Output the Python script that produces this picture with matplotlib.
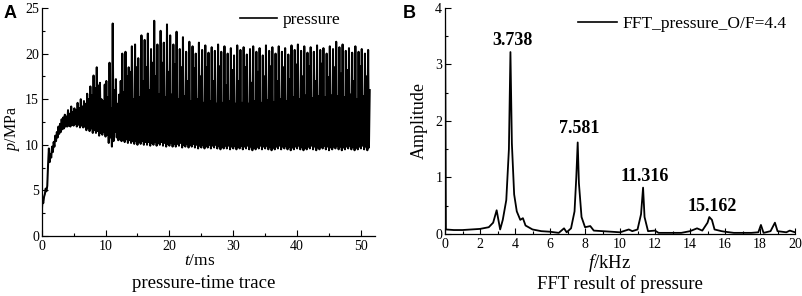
import numpy as np
import matplotlib
matplotlib.use("Agg")
import matplotlib.pyplot as plt
from matplotlib.ticker import MultipleLocator

# ---------------- Panel A data: pressure trace (MPa), one cycle = 0.5 ms, 4 samples per cycle
cycle_ms = 0.5
trough_a = [2.5, 4.6, 7.8, 8.6, 9.8, 10.8, 11.4, 11.8, 12.0, 12.0,
            12.1, 12.0, 11.9, 11.9, 11.6, 11.5, 11.3, 11.3, 11.0, 11.1,
            10.9, 10.2, 9.8, 11.4, 10.5, 10.4, 10.3, 10.2, 10.2, 10.1,
            10.0, 10.1, 10.0, 10.0, 9.9, 10.0, 9.9, 10.0, 9.9, 9.8,
            9.9, 9.8, 9.8, 9.9, 9.7, 9.8, 9.7, 9.8, 9.7, 9.6,
            9.7, 9.6, 9.7, 9.6, 9.7, 9.6, 9.5, 9.6, 9.6, 9.5,
            9.6, 9.5, 9.6, 9.5, 9.6, 9.5, 9.4, 9.5, 9.6, 9.5,
            9.6, 9.5, 9.4, 9.5, 9.6, 9.5, 9.6, 9.5, 9.4, 9.5,
            9.6, 9.5, 9.4, 9.5, 9.6, 9.5, 9.4, 9.5, 9.6, 9.5,
            9.4, 9.5, 9.6, 9.5, 9.4, 9.5, 9.6, 9.5, 9.4, 9.5,
            9.6, 9.5, 9.4]
peak_hi = [3.9, 5.2, 9.6, 9.8, 11.0, 12.0, 12.8, 13.3, 13.8, 14.2,
           14.0, 14.6, 15.0, 14.8, 15.6, 16.4, 17.6, 18.5, 16.8, 14.8,
           17.0, 19.0, 23.3, 17.2, 15.5, 20.0, 20.2, 18.5, 20.8, 21.0,
           19.5, 22.0, 21.5, 22.2, 20.5, 23.6, 21.0, 22.5, 21.2, 23.2,
           22.0, 21.0, 22.4, 20.5, 21.8, 20.2, 21.3, 20.8, 20.0, 21.2,
           20.4, 20.9, 20.1, 20.7, 20.3, 21.0, 20.2, 20.8, 20.0, 20.6,
           19.8, 20.9, 20.4, 20.7, 19.9, 20.5, 20.8, 20.2, 20.6, 19.8,
           20.9, 20.3, 20.7, 20.0, 20.8, 20.2, 20.6, 19.9, 20.9, 20.4,
           21.0, 20.3, 20.8, 20.1, 20.7, 20.2, 20.9, 20.4, 20.6, 20.0,
           20.8, 20.5, 21.3, 20.7, 21.0, 20.3, 20.6, 20.1, 20.8, 20.2,
           20.5, 20.0, 20.4]
trough_b = [3.6, 4.9, 8.1, 9.2, 10.4, 11.2, 11.7, 12.0, 12.1, 12.2,
            12.3, 12.2, 12.1, 12.0, 11.9, 11.8, 11.6, 11.5, 11.3, 11.4,
            11.1, 10.8, 10.4, 10.8, 10.6, 10.5, 10.6, 10.5, 10.4, 10.4,
            10.3, 10.4, 10.3, 10.3, 10.2, 10.3, 10.2, 10.3, 10.2, 10.1,
            10.2, 10.1, 10.1, 10.2, 10.0, 10.1, 10.0, 10.1, 10.0, 9.9,
            10.0, 9.9, 10.0, 9.9, 10.0, 9.9, 9.8, 9.9, 9.9, 9.8,
            9.9, 9.8, 9.9, 9.8, 9.9, 9.8, 9.7, 9.8, 9.9, 9.8,
            9.9, 9.8, 9.7, 9.8, 9.9, 9.8, 9.9, 9.8, 9.7, 9.8,
            9.9, 9.8, 9.7, 9.8, 9.9, 9.8, 9.7, 9.8, 9.9, 9.8,
            9.7, 9.8, 9.9, 9.8, 9.7, 9.8, 9.9, 9.8, 9.7, 9.8,
            9.9, 9.8, 9.7]
peak_lo = [4.3, 5.5, 9.0, 10.3, 11.4, 12.3, 13.0, 13.1, 13.4, 13.6,
           13.8, 14.0, 14.2, 14.5, 15.0, 15.4, 16.2, 16.5, 15.0, 16.6,
           15.2, 14.0, 16.0, 14.5, 17.0, 15.8, 17.5, 18.0, 15.0, 18.5,
           15.2, 17.0, 18.5, 16.0, 19.0, 17.5, 15.5, 19.0, 15.2, 18.0,
           15.5, 18.8, 15.0, 18.5, 15.3, 17.0, 14.8, 18.4, 15.0, 17.5,
           14.6, 18.5, 14.8, 17.0, 14.5, 18.6, 14.6, 16.5, 14.8, 18.2,
           14.5, 17.0, 14.6, 18.5, 14.5, 16.8, 14.8, 18.0, 14.6, 17.5,
           14.9, 18.6, 14.7, 17.0, 15.0, 18.5, 14.8, 17.2, 15.2, 18.8,
           15.0, 17.5, 15.4, 18.6, 15.1, 17.0, 15.3, 18.9, 15.2, 17.4,
           15.4, 18.5, 15.3, 17.8, 15.2, 18.2, 15.5, 17.0, 15.0, 18.6,
           15.3, 17.5, 16.0]

# ---------------- Panel B data: FFT amplitude
freq_khz = [0.0, 0.0, 0.05, 0.5, 1.0, 1.5, 2.0, 2.5, 2.75, 2.95, 3.05, 3.15, 3.3, 3.5,
            3.65, 3.738, 3.82, 3.95, 4.1, 4.3, 4.45, 4.6, 5.0, 5.5, 6.0, 6.5, 6.8,
            6.95, 7.2, 7.4, 7.5, 7.581, 7.65, 7.8, 8.0, 8.3, 8.5, 9.0, 9.5, 10.0,
            10.5, 10.7, 11.0, 11.2, 11.316, 11.4, 11.6, 12.0, 12.2, 13.0, 13.5,
            14.0, 14.4, 14.7, 15.0, 15.1, 15.25, 15.4, 15.8, 16.0, 16.5, 17.0,
            17.5, 17.9, 18.05, 18.2, 18.6, 18.85, 19.0, 19.5, 19.7, 20.0]
amplitude = [0.0, 4.3, 0.08, 0.07, 0.07, 0.08, 0.09, 0.12, 0.2, 0.42, 0.25, 0.08, 0.25, 0.6,
             1.5, 3.22, 1.6, 0.7, 0.4, 0.25, 0.28, 0.15, 0.08, 0.05, 0.04, 0.02, 0.1,
             0.03, 0.1, 0.4, 1.0, 1.62, 0.9, 0.3, 0.12, 0.14, 0.06, 0.05, 0.04, 0.03,
             0.08, 0.05, 0.08, 0.35, 0.82, 0.3, 0.05, 0.06, 0.02, 0.02, 0.02,
             0.05, 0.1, 0.06, 0.2, 0.3, 0.25, 0.08, 0.05, 0.04, 0.02, 0.02,
             0.02, 0.03, 0.16, 0.02, 0.05, 0.2, 0.05, 0.03, 0.06, 0.03]
peak_freqs = [3.738, 7.581, 11.316, 15.162]
peak_amps = [3.22, 1.62, 0.82, 0.30]
peak_labels = ["3.738", "7.581", "11.316", "15.162"]

# ---------------- build trace
pressure = np.column_stack([trough_a, peak_hi, trough_b, peak_lo]).ravel()
t_ms = np.arange(pressure.size) * (cycle_ms / 4)

serif = "Liberation Serif"
plt.rcParams["font.family"] = serif
plt.rcParams["mathtext.fontset"] = "custom"
plt.rcParams["mathtext.it"] = "Liberation Serif:italic"
plt.rcParams["mathtext.rm"] = "Liberation Serif"

fig = plt.figure(figsize=(8.03, 2.96), dpi=100)
axA = fig.add_axes([0.0519, 0.2027, 0.4151, 0.7703])
axB = fig.add_axes([0.5542, 0.2095, 0.4359, 0.7635])

def style(ax):
    for s in ("top", "right"):
        ax.spines[s].set_visible(False)
    for s in ("left", "bottom"):
        ax.spines[s].set_linewidth(0.9)
    ax.tick_params(which="both", direction="in", labelsize=10, width=0.8)
    ax.tick_params(which="major", length=4)
    ax.tick_params(which="minor", length=2.5)
    ax.tick_params(axis="x", pad=3)
    ax.tick_params(axis="y", pad=2)

# Panel A
axA.plot(t_ms, pressure, color="black", lw=1.45, label="pressure")
axA.set_xlim(0, 52.2)
axA.set_ylim(0, 25)
axA.xaxis.set_major_locator(MultipleLocator(10))
axA.xaxis.set_minor_locator(MultipleLocator(5))
axA.yaxis.set_major_locator(MultipleLocator(5))
axA.yaxis.set_minor_locator(MultipleLocator(2.5))
style(axA)
axA.set_xlabel(r"$\mathit{t}$/ms", fontsize=12.5)
axA.xaxis.set_label_coords(0.475, -0.075)
axA.set_ylabel(r"$\mathit{p}$/MPa", fontsize=11.5)
axA.yaxis.set_label_coords(-0.06, 0.47)
legA = axA.legend(loc="center left", frameon=False, fontsize=12.5, handlelength=2.13,
                  handletextpad=0.35, borderpad=0, borderaxespad=0,
                  bbox_to_anchor=(0.595, 0.947))
for ln in legA.get_lines():
    ln.set_linewidth(1.2)

# Panel B
axB.plot(freq_khz, amplitude, color="black", lw=1.3, label="FFT_pressure_O/F=4.4")
axB.set_xlim(0, 20)
axB.set_ylim(0, 4)
axB.xaxis.set_major_locator(MultipleLocator(2))
axB.xaxis.set_minor_locator(MultipleLocator(1))
axB.yaxis.set_major_locator(MultipleLocator(1))
axB.yaxis.set_minor_locator(MultipleLocator(0.5))
style(axB)
axB.set_xlabel(r"$\mathit{f}$/kHz", fontsize=13.5)
axB.xaxis.set_label_coords(0.471, -0.078)
axB.set_ylabel("Amplitude", fontsize=13)
axB.yaxis.set_label_coords(-0.049, 0.5)
legB = axB.legend(loc="center left", frameon=False, fontsize=12.5, handlelength=2.25,
                  handletextpad=0.3, borderpad=0, borderaxespad=0,
                  bbox_to_anchor=(0.38, 0.929))
for ln in legB.get_lines():
    ln.set_linewidth(1.2)

label_offsets = [0.21, 0.24, 0.19, 0.18]
for f, a, s, off in zip(peak_freqs, peak_amps, peak_labels, label_offsets):
    axB.text(f + 0.1, a + off, s, ha="center", va="center", fontsize=13,
             fontweight="bold", family=serif)

# captions and panel letters
fig.text(0.254, 0.042, "pressure-time trace", ha="center", va="center", fontsize=13.5)
fig.text(0.772, 0.042, "FFT result of pressure", ha="center", va="center", fontsize=13.5)
fig.text(0.004, 0.955, "A", ha="left", va="center", fontsize=13, fontweight="bold",
         family="Liberation Sans")
fig.text(0.502, 0.955, "B", ha="left", va="center", fontsize=13, fontweight="bold",
         family="Liberation Sans")

fig.savefig("out.png", dpi=100)
